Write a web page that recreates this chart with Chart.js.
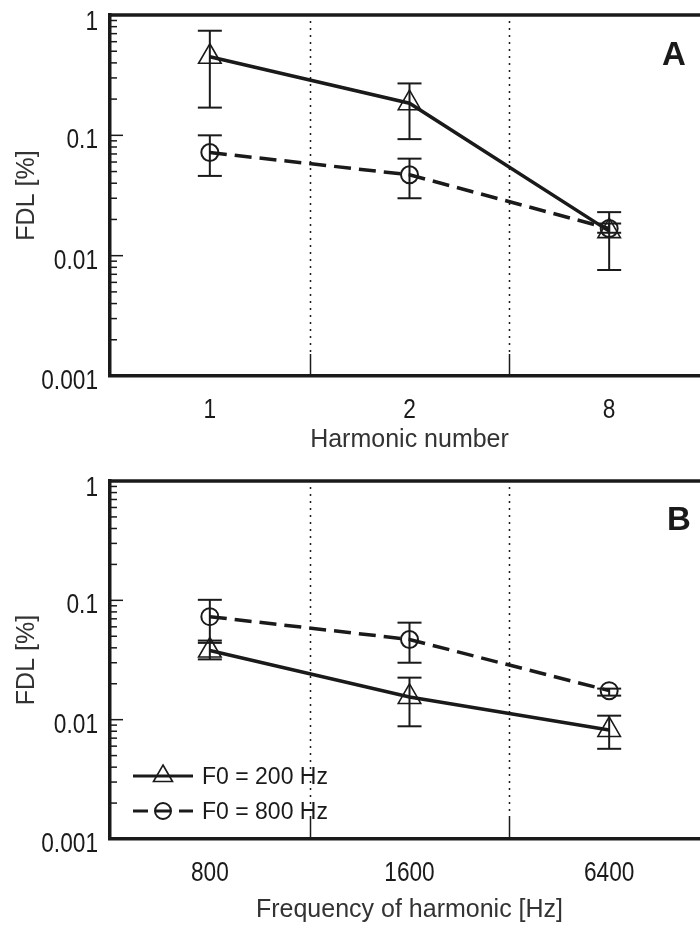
<!DOCTYPE html>
<html lang="en">
<head>
<meta charset="UTF-8">
<title>FDL by harmonic number and frequency</title>
<script src="https://cdn.jsdelivr.net/npm/chart.js"></script>
<style>
  html, body { margin: 0; padding: 0; background: #fff; width: 700px; height: 927px; overflow: hidden; }
  canvas { position: absolute; left: 0; }
  #chartA { top: 0; }
  #chartB { top: 460px; }
  .tag { position: absolute; font: bold 33px 'Liberation Sans', Arial, sans-serif; line-height: 33px; color: #1a1a1a; }
</style>
</head>
<body>
<canvas id="chartA" width="712" height="460"></canvas>
<canvas id="chartB" width="712" height="467"></canvas>
<div class="tag" style="left:662px; top:37px;">A</div>
<div class="tag" style="left:667px; top:502px;">B</div>

<script>
// categories
const harmonicLabels = ['1', '2', '8'];
const freqLabels = ['800', '1600', '6400'];
const seriesNames = ['F0 = 200 Hz', 'F0 = 800 Hz'];

// log axis ticks
const yTickValues = [0.001, 0.01, 0.1, 1];
const yTickLabels = ['0.001', '0.01', '0.1', '1'];
const minorSteps = [2, 3, 4, 5, 6, 7, 8, 9];

// panel A - FDL [%] vs harmonic number
const a200 = [0.45, 0.185, 0.016];
const a200Lo = [0.17, 0.093, 0.0076];
const a200Hi = [0.74, 0.27, 0.023];
const a800 = [0.072, 0.047, 0.0168];
const a800Lo = [0.046, 0.030, 0.0155];
const a800Hi = [0.10, 0.064, 0.0185];

// panel B - FDL [%] vs frequency of harmonic
const b200 = [0.038, 0.0155, 0.0082];
const b200Lo = [0.032, 0.0088, 0.0057];
const b200Hi = [0.046, 0.0225, 0.0108];
const b800 = [0.073, 0.047, 0.0175];
const b800Lo = [0.044, 0.030, 0.0159];
const b800Hi = [0.101, 0.065, 0.0182];

const ink = '#1a1a1a';
const sans = "'Liberation Sans', Arial, sans-serif";
Chart.defaults.font.family = sans;
Chart.defaults.color = ink;

function seg(ctx, x1, y1, x2, y2) {
    ctx.beginPath();
    ctx.moveTo(x1, y1);
    ctx.lineTo(x2, y2);
    ctx.stroke();
}

// tick numbers in the original use a narrow face, so squeeze them a bit
function narrowText(ctx, text, px, py) {
    ctx.save();
    ctx.translate(px, py);
    ctx.scale(0.84, 1);
    ctx.fillText(text, 0, 0);
    ctx.restore();
}

// ticks inside the frame, dotted separators, error bars, tick labels, top edge, legend
const frame = {
    id: 'frame',
    beforeDatasetsDraw(chart) {
        const { ctx, chartArea: a, scales: { x, y } } = chart;
        ctx.save();
        ctx.strokeStyle = ink;
        ctx.lineWidth = 1.5;
        yTickValues.forEach((d, i) => {
            const py = y.getPixelForValue(d);
            seg(ctx, a.left, py, a.left + 13, py);
            if (i < yTickValues.length - 1) {
                minorSteps.forEach(k => {
                    const pm = y.getPixelForValue(d * k);
                    seg(ctx, a.left, pm, a.left + 7, pm);
                });
            }
        });
        for (let i = 0; i < x.ticks.length - 1; i++) {
            const px = Math.round(x.getPixelForValue(i + 0.5)) + 0.5;
            ctx.setLineDash([2, 5]);
            seg(ctx, px, a.top + 6, px, a.bottom - 22);
            ctx.setLineDash([]);
            seg(ctx, px, a.bottom - 22, px, a.bottom);
        }
        ctx.restore();
    },
    afterDatasetsDraw(chart) {
        const { ctx, scales: { x, y } } = chart;
        ctx.save();
        ctx.strokeStyle = ink;
        ctx.lineWidth = 2;
        chart.data.datasets.forEach(ds => {
            ds.errLo.forEach((lo, j) => {
                const px = x.getPixelForValue(j);
                const yl = y.getPixelForValue(lo);
                const yh = y.getPixelForValue(ds.errHi[j]);
                seg(ctx, px, yl, px, yh);
                seg(ctx, px - 12, yl, px + 12, yl);
                seg(ctx, px - 12, yh, px + 12, yh);
            });
        });
        ctx.restore();
    },
    afterDraw(chart, args, opts) {
        const { ctx, chartArea: a, scales: { x, y } } = chart;
        ctx.save();
        ctx.strokeStyle = ink;
        ctx.lineWidth = 3.5;
        seg(ctx, a.left - 1.75, a.top, a.right + 10, a.top);

        ctx.fillStyle = ink;
        ctx.font = '27px ' + sans;
        ctx.textBaseline = 'alphabetic';
        ctx.textAlign = 'right';
        yTickValues.forEach((v, i) => {
            const py = y.getPixelForValue(v);
            narrowText(ctx, yTickLabels[i], a.left - 12, Math.max(py + 13, a.top + 15));
        });
        ctx.textAlign = 'center';
        chart.data.labels.forEach((lab, j) => {
            narrowText(ctx, lab, x.getPixelForValue(j), a.bottom + 42);
        });

        if (opts.legend) {
            ctx.textAlign = 'left';
            chart.data.datasets.forEach((ds, i) => {
                const ly = a.bottom - 63 + i * 35;
                const x0 = a.left + 23, x1 = a.left + 83, xm = a.left + 53;
                ctx.strokeStyle = ds.borderColor;
                ctx.lineWidth = 3;
                ctx.setLineDash(ds.borderDash ? [15, 8] : []);
                seg(ctx, x0, ly, x1, ly);
                ctx.setLineDash([]);
                ctx.fillStyle = 'rgba(0,0,0,0)';
                ctx.lineWidth = ds.pointBorderWidth;
                Chart.helpers.drawPoint(ctx, {
                    pointStyle: ds.pointStyle,
                    radius: ds.pointStyle === 'triangle' ? 11 : 8,
                    borderWidth: ds.pointBorderWidth,
                    rotation: 0
                }, xm, ly);
                ctx.fillStyle = ink;
                ctx.font = '23px ' + sans;
                ctx.textBaseline = 'middle';
                ctx.fillText(ds.label, a.left + 92, ly + 2);
            });
        }
        ctx.restore();
    }
};

function makeSets(v200, lo200, hi200, v800, lo800, hi800) {
    return [
        {
            label: seriesNames[0], data: v200, errLo: lo200, errHi: hi200,
            borderColor: ink, borderWidth: 3.5, tension: 0,
            pointStyle: 'triangle', pointRadius: 13, pointBorderWidth: 1.6,
            pointBorderColor: ink, pointBackgroundColor: 'rgba(0,0,0,0)'
        },
        {
            label: seriesNames[1], data: v800, errLo: lo800, errHi: hi800,
            borderColor: ink, borderWidth: 3.5, borderDash: [17, 8], tension: 0,
            pointStyle: 'circle', pointRadius: 8.5, pointBorderWidth: 2,
            pointBorderColor: ink, pointBackgroundColor: 'rgba(0,0,0,0)'
        }
    ];
}

function makeChart(id, cats, sets, xTitle, axisHeight, padTop, titlePad, withLegend) {
    return new Chart(document.getElementById(id), {
        type: 'line',
        data: { labels: cats, datasets: sets },
        options: {
            responsive: false,
            animation: false,
            events: [],
            layout: { autoPadding: false, padding: { top: padTop, right: 3, left: 0, bottom: 0 } },
            scales: {
                x: {
                    type: 'category',
                    offset: true,
                    grid: { display: false, drawTicks: false },
                    border: { width: 3.5, color: ink },
                    ticks: { display: false },
                    title: { display: true, text: xTitle, font: { size: 25 }, color: '#333', padding: { top: 0, bottom: titlePad } },
                    afterFit: s => { s.height = axisHeight; s.paddingLeft = 0; s.paddingRight = 0; }
                },
                y: {
                    type: 'logarithmic',
                    min: 0.001,
                    max: 1,
                    grid: { display: false, drawTicks: false },
                    border: { width: 3.5, color: ink },
                    afterBuildTicks: s => { s.ticks = yTickValues.map(v => ({ value: v })); },
                    ticks: { display: false },
                    title: { display: true, text: 'FDL [%]', font: { size: 25 }, color: '#333', padding: { top: 12, bottom: 0 } },
                    afterFit: s => { s.width = 110; s.paddingTop = 0; s.paddingBottom = 0; }
                }
            },
            plugins: {
                legend: { display: false },
                tooltip: { enabled: false },
                frame: { legend: withLegend }
            }
        },
        plugins: [frame]
    });
}

makeChart('chartA', harmonicLabels, makeSets(a200, a200Lo, a200Hi, a800, a800Lo, a800Hi),
    'Harmonic number', 84, 15, 5, false);
makeChart('chartB', freqLabels, makeSets(b200, b200Lo, b200Hi, b800, b800Lo, b800Hi),
    'Frequency of harmonic [Hz]', 88, 21, 2, true);
</script>
</body>
</html>
